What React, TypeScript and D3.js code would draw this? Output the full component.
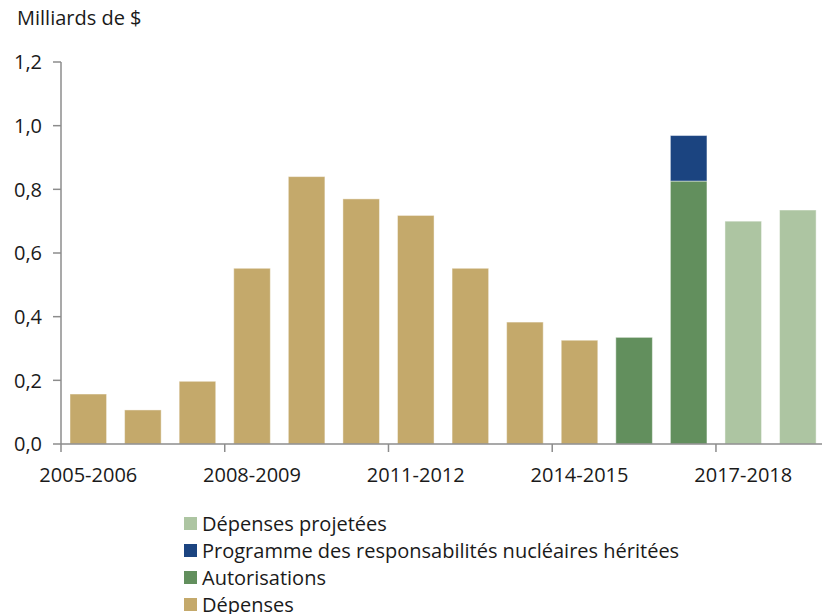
import React, { useRef, useEffect } from 'react';
import * as d3 from 'd3';

const years = [
  '2005-2006', '2006-2007', '2007-2008', '2008-2009', '2009-2010', '2010-2011', '2011-2012',
  '2012-2013', '2013-2014', '2014-2015', '2015-2016', '2016-2017', '2017-2018', '2018-2019',
];
const depenses = [0.157, 0.107, 0.197, 0.552, 0.84, 0.77, 0.718, 0.552, 0.383, 0.326, 0, 0, 0, 0];
const autorisations = [0, 0, 0, 0, 0, 0, 0, 0, 0, 0, 0.335, 0.826, 0, 0];
const nucleaire = [0, 0, 0, 0, 0, 0, 0, 0, 0, 0, 0, 0.143, 0, 0];
const projetees = [0, 0, 0, 0, 0, 0, 0, 0, 0, 0, 0, 0, 0.7, 0.735];
const yTicks = [0, 0.2, 0.4, 0.6, 0.8, 1.0, 1.2];

const series = [
  { key: 'depenses', label: 'Dépenses', color: '#c4a96b', values: depenses },
  { key: 'autorisations', label: 'Autorisations', color: '#628f5d', values: autorisations },
  { key: 'nucleaire', label: 'Programme des responsabilités nucléaires héritées', color: '#1b4480', values: nucleaire },
  { key: 'projetees', label: 'Dépenses projetées', color: '#adc5a2', values: projetees },
];

const W = 822;
const H = 614;
const FONT = '"Open Sans", sans-serif';

const App: React.FC = () => {
  const svgRef = useRef<SVGSVGElement>(null);

  useEffect(() => {
    if (!svgRef.current) return;
    const svg = d3.select(svgRef.current);
    svg.selectAll('*').remove();

    const left = 61;
    const x = d3.scaleBand<string>()
      .domain(years)
      .range([left, left + 14 * 54.58])
      .paddingInner(0.33)
      .paddingOuter(0.165);
    const y = d3.scaleLinear().domain([0, 1.2]).range([444, 62]);

    const table = years.map((yr, i) => {
      const row: any = { year: yr };
      series.forEach(s => { row[s.key] = s.values[i]; });
      return row;
    });
    const stacked = d3.stack<any>().keys(series.map(s => s.key))(table);

    // bars
    const g = svg.append('g');
    stacked.forEach((layer, li) => {
      g.append('g')
        .attr('fill', series[li].color)
        .selectAll('rect')
        .data(layer.filter(d => d[1] - d[0] > 0))
        .join('rect')
        .attr('x', d => x(d.data.year)!)
        .attr('width', x.bandwidth())
        .attr('y', d => y(d[1]))
        .attr('height', d => y(d[0]) - y(d[1]))
        .attr('stroke', '#ffffff')
        .attr('stroke-opacity', 0.45)
        .attr('stroke-width', 1);
    });

    const axisColor = '#8c8c8c';

    // y axis
    svg.append('line')
      .attr('x1', left).attr('x2', left)
      .attr('y1', y(1.2)).attr('y2', y(0))
      .attr('stroke', axisColor).attr('stroke-width', 1.5);
    const yt = svg.append('g').selectAll('g').data(yTicks).join('g')
      .attr('transform', d => `translate(0,${y(d)})`);
    yt.append('line').attr('x1', left - 8).attr('x2', left)
      .attr('stroke', axisColor).attr('stroke-width', 1.5);
    yt.append('text')
      .attr('x', 42).attr('dy', '0.36em')
      .attr('text-anchor', 'end')
      .attr('font-family', FONT).attr('font-size', 20).attr('fill', '#1a1a1a')
      .text(d => d3.format('.1f')(d).replace('.', ','));

    // x axis
    svg.append('line')
      .attr('x1', left).attr('x2', W)
      .attr('y1', y(0)).attr('y2', y(0))
      .attr('stroke', axisColor).attr('stroke-width', 1.5);
    const half = (x.step() * x.paddingInner()) / 2;
    const labelled = years.filter((_, i) => i % 3 === 0);
    svg.append('g').selectAll('line').data(labelled).join('line')
      .attr('x1', d => x(d)! - half).attr('x2', d => x(d)! - half)
      .attr('y1', y(0)).attr('y2', y(0) + 8)
      .attr('stroke', axisColor).attr('stroke-width', 1.5);
    svg.append('g').selectAll('text').data(labelled).join('text')
      .attr('x', d => x(d)! + x.bandwidth() / 2)
      .attr('y', 482)
      .attr('text-anchor', 'middle')
      .attr('font-family', FONT).attr('font-size', 20).attr('fill', '#1a1a1a')
      .text(d => d);

    // unit label
    svg.append('text')
      .attr('x', 17).attr('y', 25)
      .attr('font-family', FONT).attr('font-size', 20).attr('fill', '#1a1a1a')
      .text('Milliards de $');

    // legend
    const legendOrder = [...series].reverse();
    const lg = svg.append('g').selectAll('g').data(legendOrder).join('g')
      .attr('transform', (_, i) => `translate(184,${517 + i * 27})`);
    lg.append('rect').attr('width', 13).attr('height', 13).attr('fill', d => d.color);
    lg.append('text')
      .attr('x', 18).attr('y', 14)
      .attr('font-family', FONT).attr('font-size', 20).attr('fill', '#1a1a1a')
      .text(d => d.label);
  }, []);

  return (
    <svg
      ref={svgRef}
      width={W}
      height={H}
      style={{ position: 'absolute', left: 0, top: 0, background: '#fff' }}
    />
  );
};

export default App;
